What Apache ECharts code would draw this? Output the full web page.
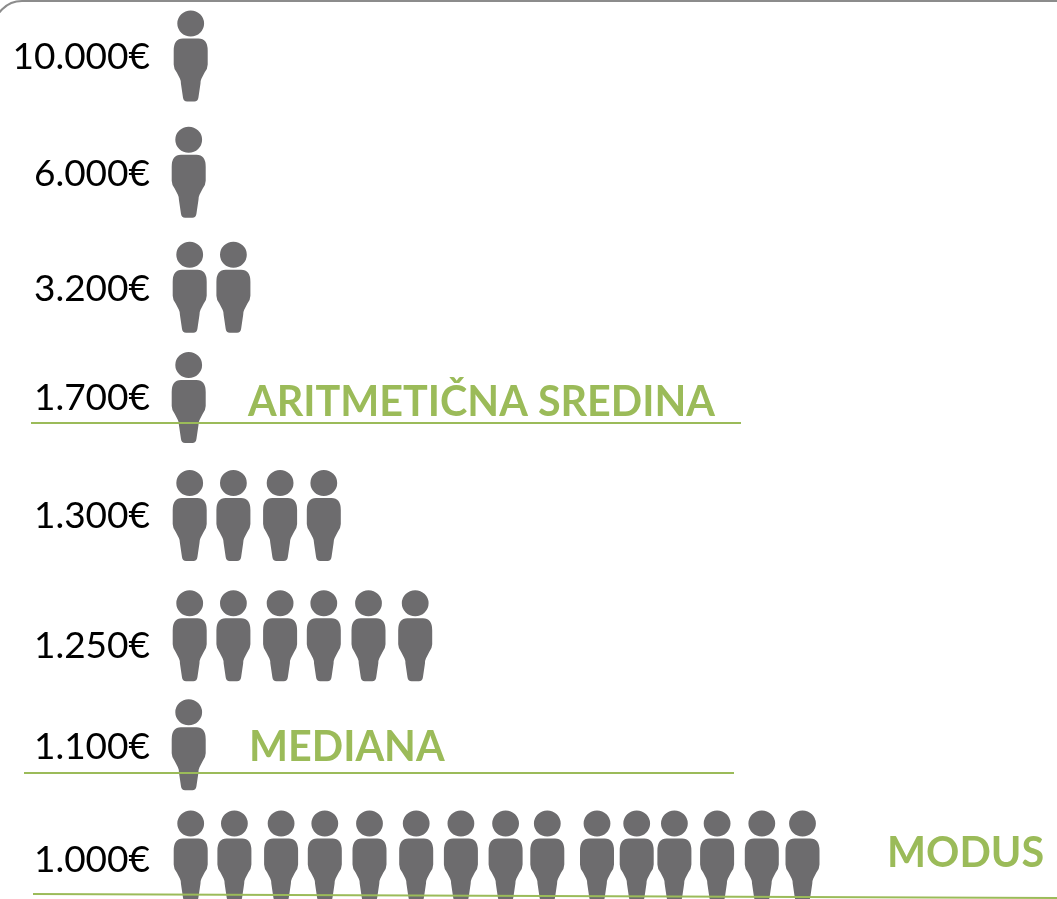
<!DOCTYPE html>
<html>
<head>
<meta charset="utf-8">
<style>html,body{margin:0;padding:0;background:#fff}#c{width:1057px;height:899px}</style>
<script src="https://cdn.jsdelivr.net/npm/echarts@6/dist/echarts.min.js"></script>
</head>
<body>
<div id="c"></div>
<script>
// Data
const salaryLabels = ['10.000€','6.000€','3.200€','1.700€','1.300€','1.250€','1.100€','1.000€'];
const peopleCounts = [1,1,2,1,4,6,1,15];
const annotations = ['ARITMETIČNA SREDINA','MEDIANA','MODUS'];

// Layout nudges (pixels) - the source's hand-placed figures and labels
const columnNudge = [0,0,3,3,4,7,8,9,7,13,9,3,2,3,0];
const rowNudge = [[0,0],[-2,2],[-1,3],[-2,-1],[-1,3],[-1,9],[-2,4],[0,1]];
const labelNudge = [1,3.5,4.5,0,3,19,6,5];

const personPath = 'path://M3.5 13A13 13 0 1 1 29.5 13A13 13 0 1 1 3.5 13Z' +
  'M9 28L24 28Q33 28 33 40L33 54Q33 58 30 62L27 68Q26 70 26 73L24 87Q23.5 91 20 91L13 91Q9.5 91 9 87L7 73Q7 70 6 68L3 62Q0 58 0 54L0 40Q0 28 9 28Z';

const people = [];
peopleCounts.forEach((n, r) => {
  for (let i = 0; i < n; i++) {
    people.push({
      value: [i + 1, salaryLabels[r]],
      symbolOffset: [columnNudge[i] + rowNudge[r][0], rowNudge[r][1]]
    });
  }
});

const labelRich = {};
labelNudge.forEach((d, r) => {
  labelRich['r' + r] = {
    color:'#000', fontFamily:'Lato, sans-serif', fontSize:37,
    padding:[d > 0 ? 2 * d : 0, 0, d < 0 ? -2 * d : 0, 0]
  };
});

const green = '#9bbb59';
const chart = echarts.init(document.getElementById('c'), null, {renderer:'canvas'});
const greenLine = (x1,y1,x2,y2) => ({type:'line',z:20,shape:{x1,y1,x2,y2},style:{stroke:green,lineWidth:2}});
const greenText = (text,x,y) => ({type:'text',z:20,x,y,style:{text,fill:green,font:'bold 41.3px Lato, sans-serif',textVerticalAlign:'middle'}});

chart.setOption({
  animation:false,
  backgroundColor:'#fff',
  grid:{left:147,right:36,top:-1,height:913,outerBoundsMode:'none'},
  xAxis:{type:'value',min:0,max:20,show:false},
  yAxis:{
    type:'category',inverse:true,data:salaryLabels,
    axisLine:{show:false},axisTick:{show:false},splitLine:{show:false},
    axisLabel:{
      margin:-3,color:'#000',fontFamily:'Lato, sans-serif',fontSize:37,
      formatter:(v, i) => `{r${i}|${v}}`,
      rich:labelRich
    }
  },
  series:[{
    type:'scatter',
    clip:false,
    data:people,
    symbol:personPath,
    symbolSize:[34,91],
    itemStyle:{color:'#6d6c6e',opacity:1},
    z:5
  }],
  graphic:[
    {type:'rect',z:1,shape:{x:-6,y:1,width:1120,height:1000,r:28},style:{fill:'none',stroke:'#8c8c8c',lineWidth:2}},
    greenLine(31,423,741,423),
    greenLine(24,773,734,773),
    greenLine(33,894,1057,898),
    greenText(annotations[0],248,403),
    greenText(annotations[1],249,748),
    greenText(annotations[2],887,854)
  ]
});
</script>
</body>
</html>
